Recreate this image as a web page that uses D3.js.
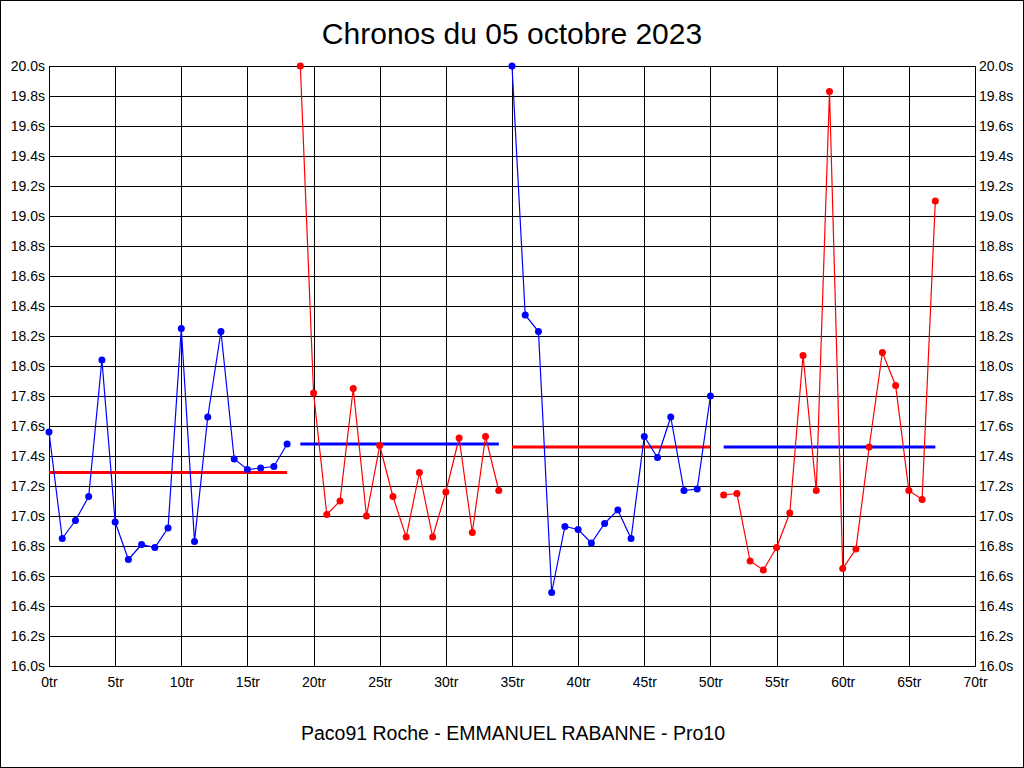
<!DOCTYPE html>
<html>
<head>
<meta charset="utf-8">
<script src="https://cdn.jsdelivr.net/npm/d3@7"></script>
<style>
html,body{margin:0;padding:0;background:#fff;}
svg{display:block;}
text{font-family:"Liberation Sans",Arial,sans-serif;fill:#000;}
</style>
</head>
<body>
<svg id="chart" width="1024" height="768"></svg>
<script>
// ---- Data ----
const title = "Chronos du 05 octobre 2023";
const subtitle = "Paco91 Roche - EMMANUEL RABANNE - Pro10";
const stintStarts = [0, 19, 35, 51];
const stint1 = [17.56, 16.85, 16.97, 17.13, 18.04, 16.96, 16.71, 16.81, 16.79, 16.92, 18.25, 16.83, 17.66, 18.23, 17.38, 17.31, 17.32, 17.33, 17.48];
const stint2 = [20.0, 17.82, 17.01, 17.10, 17.85, 17.00, 17.47, 17.13, 16.86, 17.29, 16.86, 17.16, 17.52, 16.89, 17.53, 17.17];
const stint3 = [20.0, 18.34, 18.23, 16.49, 16.93, 16.91, 16.82, 16.95, 17.04, 16.85, 17.53, 17.39, 17.66, 17.17, 17.18, 17.80];
const stint4 = [17.14, 17.15, 16.70, 16.64, 16.79, 17.02, 18.07, 17.17, 19.83, 16.65, 16.78, 17.46, 18.09, 17.87, 17.17, 17.11, 19.10];
const stintAverages = [17.29, 17.48, 17.46, 17.46];
const stintColors = ["#0000ff", "#ff0000", "#0000ff", "#ff0000"];
const averageColors = ["#ff0000", "#0000ff", "#ff0000", "#0000ff"];
const xTicks = [0, 5, 10, 15, 20, 25, 30, 35, 40, 45, 50, 55, 60, 65, 70];
const yTicks = [16.0, 16.2, 16.4, 16.6, 16.8, 17.0, 17.2, 17.4, 17.6, 17.8, 18.0, 18.2, 18.4, 18.6, 18.8, 19.0, 19.2, 19.4, 19.6, 19.8, 20.0];

const stints = [stint1, stint2, stint3, stint4];

// ---- Layout ----
const W = 1024, H = 768;
const L = 49, R = 975, T = 66, B = 666;
const svg = d3.select("#chart");

const x = d3.scaleLinear().domain([0, 70]).range([L, R]);
const y = d3.scaleLinear().domain([16, 20]).range([B, T]);

// outer frame
svg.append("rect").attr("x", 0.5).attr("y", 0.5).attr("width", W - 1).attr("height", H - 1)
  .attr("fill", "#fff").attr("stroke", "#000").attr("stroke-width", 1);

// grid
const grid = svg.append("g").attr("shape-rendering", "crispEdges");
grid.selectAll("line.v").data(xTicks).join("line")
  .attr("x1", d => Math.round(x(d)) + 0.5).attr("x2", d => Math.round(x(d)) + 0.5)
  .attr("y1", T).attr("y2", B).attr("stroke", "#000");
grid.selectAll("line.h").data(yTicks).join("line")
  .attr("x1", L).attr("x2", R)
  .attr("y1", d => Math.round(y(d)) + 0.5).attr("y2", d => Math.round(y(d)) + 0.5).attr("stroke", "#000");

// axes labels
const fmtY = d => d3.format(".1f")(d) + "s";
const yLeft = d3.axisLeft(y).tickValues(yTicks).tickFormat(fmtY).tickSize(0).tickPadding(4);
const yRight = d3.axisRight(y).tickValues(yTicks).tickFormat(fmtY).tickSize(0).tickPadding(4);
const xBottom = d3.axisBottom(x).tickValues(xTicks).tickFormat(d => d + "tr").tickSize(0).tickPadding(11);

function styleAxis(g) {
  g.select(".domain").remove();
  g.selectAll("text").attr("font-size", 14).attr("font-family", '"Liberation Sans",Arial,sans-serif').attr("fill", "#000");
}
svg.append("g").attr("transform", `translate(${L},0)`).call(yLeft).call(styleAxis);
svg.append("g").attr("transform", `translate(${R},0)`).call(yRight).call(styleAxis);
svg.append("g").attr("transform", `translate(0,${B})`).call(xBottom).call(styleAxis);

// plot border
svg.append("rect").attr("x", L + 0.5).attr("y", T + 0.5).attr("width", R - L).attr("height", B - T)
  .attr("fill", "none").attr("stroke", "#000").attr("shape-rendering", "crispEdges");

// average lines
stints.forEach((s, i) => {
  const a = stintStarts[i], b = stintStarts[i] + s.length - 1;
  svg.append("line")
    .attr("x1", x(a)).attr("x2", x(b))
    .attr("y1", y(stintAverages[i])).attr("y2", y(stintAverages[i]))
    .attr("stroke", averageColors[i]).attr("stroke-width", 3);
});

// series
const line = d3.line().x(d => x(d.lap)).y(d => y(d.t));
stints.forEach((s, i) => {
  const pts = s.map((t, k) => ({ lap: stintStarts[i] + k, t }));
  svg.append("path").datum(pts).attr("d", line)
    .attr("fill", "none").attr("stroke", stintColors[i]).attr("stroke-width", 1.2);
  svg.append("g").selectAll("circle").data(pts).join("circle")
    .attr("cx", d => x(d.lap)).attr("cy", d => y(d.t)).attr("r", 3.5)
    .attr("fill", stintColors[i]);
});

// titles
svg.append("text").attr("x", 512).attr("y", 44).attr("text-anchor", "middle")
  .attr("font-size", 30).text(title);
svg.append("text").attr("x", 513).attr("y", 740).attr("text-anchor", "middle")
  .attr("font-size", 19.5).text(subtitle);
</script>
</body>
</html>
